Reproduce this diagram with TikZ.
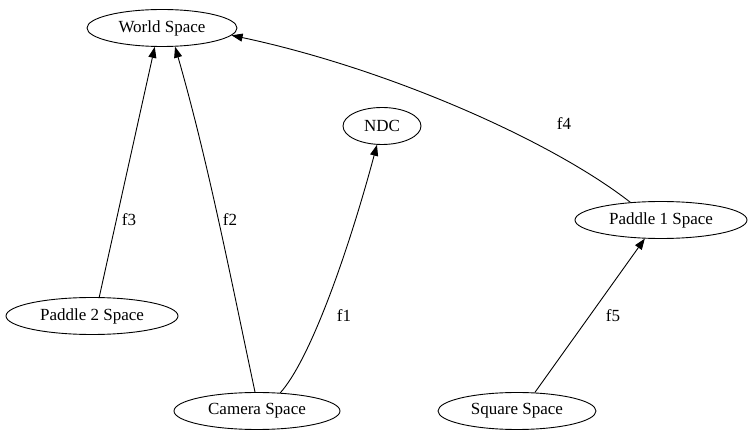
\documentclass[tikz,border=0pt]{standalone}
\usepackage{fontspec}
\setmainfont{Liberation Serif}
\usetikzlibrary{arrows.meta, shapes.geometric, positioning}

\begin{document}
\begin{tikzpicture}[x=1pt, y=1pt, line width=0.9pt,
	spstyle/.style={draw, ellipse, inner sep=0pt, minimum height=37pt, font=\fontsize{17}{19}\selectfont},
	mapstyle/.style={-{Triangle[length=11pt, width=8pt]}},
	lblstyle/.style={font=\fontsize{17}{19}\selectfont, inner sep=0pt}
]
	\useasboundingbox (0,0) rectangle (753,-443);

	\node[spstyle, minimum width=150pt] at (162,-28) (world) {World Space};
	\node[spstyle, minimum width=78pt] at (382,-126) (ndc) {NDC};
	\node[spstyle, minimum width=172pt] at (661,-220) (p1) {Paddle 1 Space};
	\node[spstyle, minimum width=172pt] at (92,-316) (p2) {Paddle 2 Space};
	\node[spstyle, minimum width=166pt] at (257,-411) (cam) {Camera Space};
	\node[spstyle, minimum width=158pt] at (517,-411) (sq) {Square Space};

	\draw[mapstyle] (cam.38) .. controls +(48:45) and +(-105:110) .. (ndc.-105);
	\draw[mapstyle] (cam.96) .. controls +(102:120) and +(-74:120) .. (world.-55);
	\draw[mapstyle] (p2.69) -- (world.-111);
	\draw[mapstyle] (p1.150) .. controls +(142:100) and +(-12:160) .. (world.-6);
	\draw[mapstyle] (sq.46) -- (p1.-131);

	\node[lblstyle] at (344,-316) (lf1) {f1};
	\node[lblstyle] at (230,-220) (lf2) {f2};
	\node[lblstyle] at (129,-220) (lf3) {f3};
	\node[lblstyle] at (564,-124) (lf4) {f4};
	\node[lblstyle] at (613,-316) (lf5) {f5};
\end{tikzpicture}
\end{document}
